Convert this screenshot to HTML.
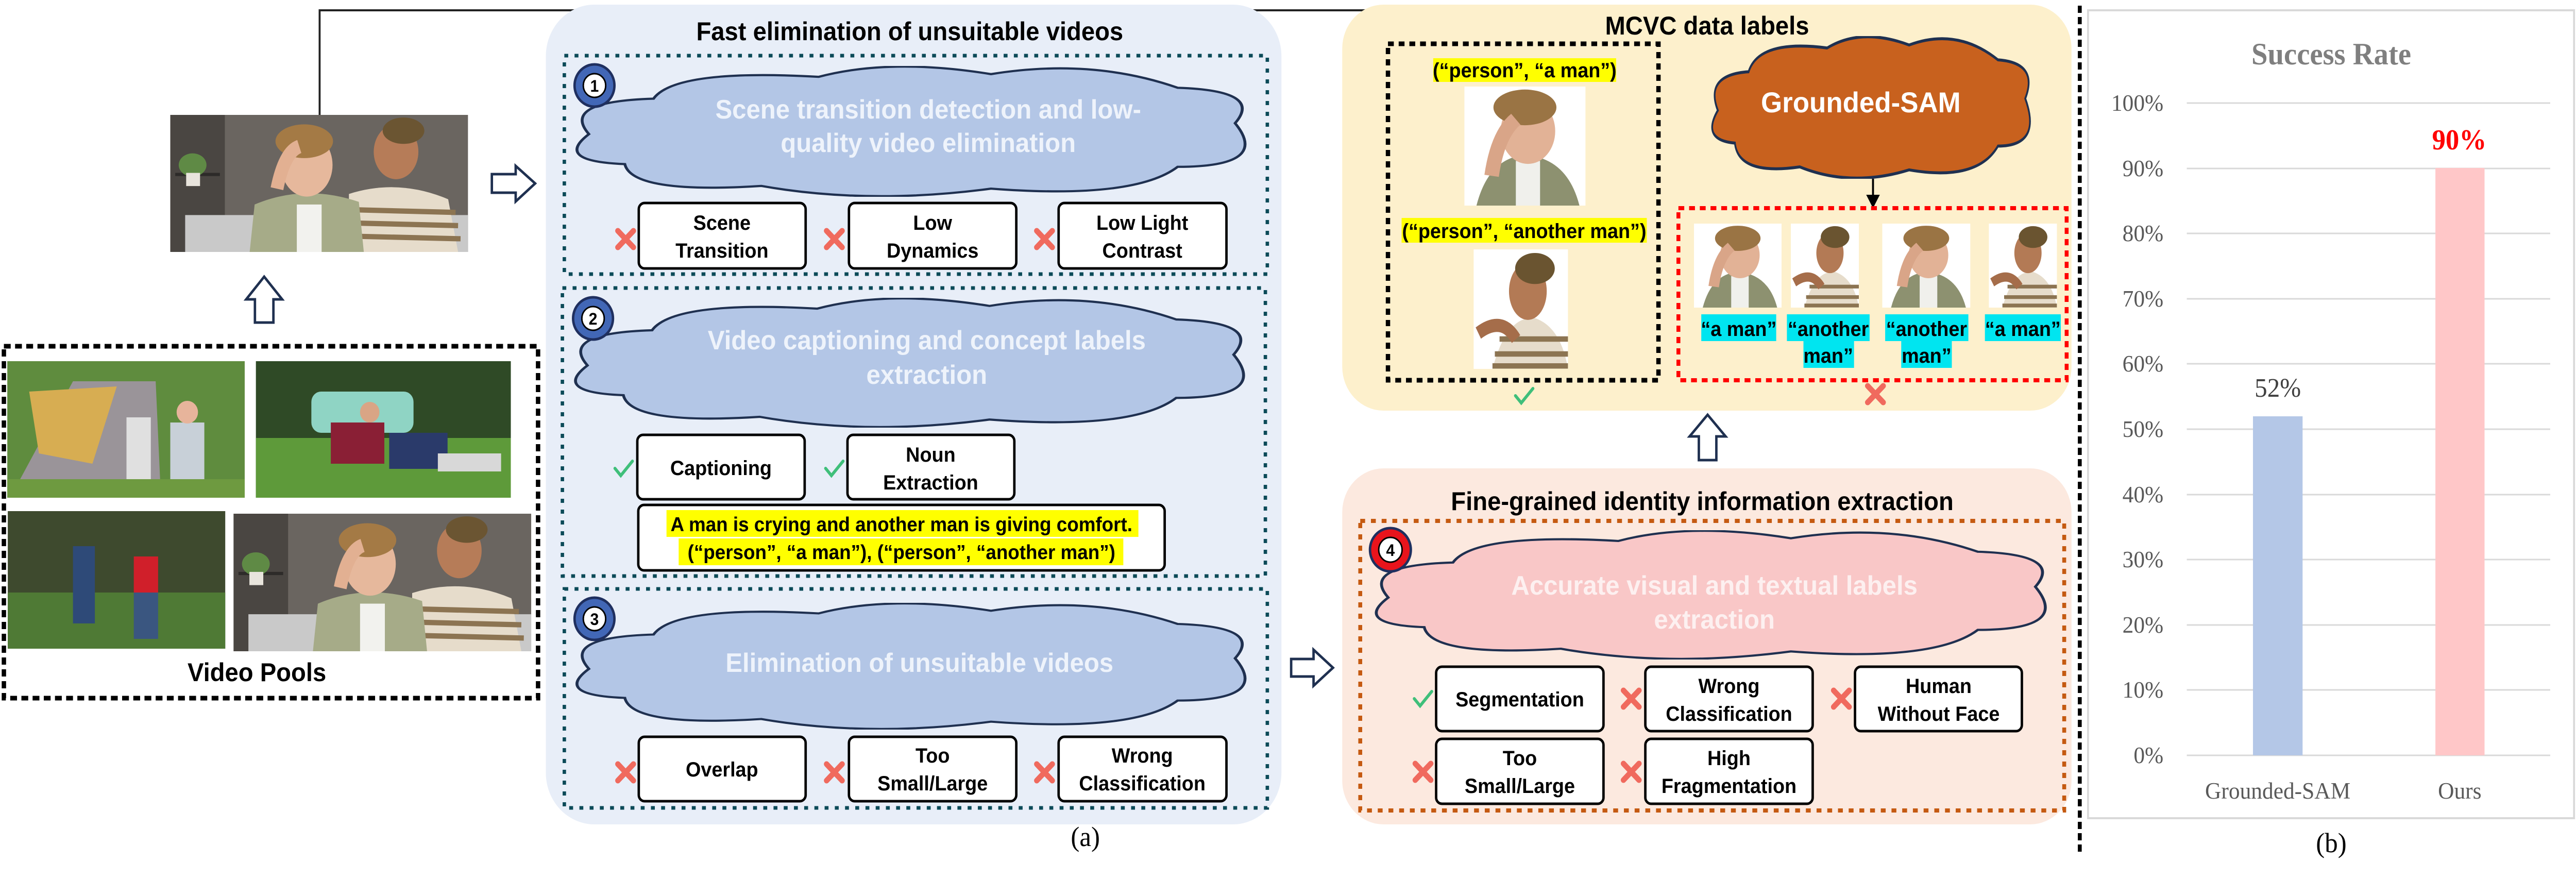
<!DOCTYPE html>
<html><head><meta charset="utf-8"><style>
html,body{margin:0;padding:0;background:#fff;width:100%;height:100%;overflow:hidden;}
svg.main{position:absolute;left:0;top:0;display:block;width:100vw;height:100vh;}
.b{font-family:"Liberation Sans",sans-serif;font-weight:bold;}
.s{font-family:"Liberation Serif",serif;}
</style></head><body>
<svg class="main" viewBox="0 0 5295 1706" preserveAspectRatio="none" xmlns="http://www.w3.org/2000/svg" overflow="hidden">
<defs>
<path id="cloud" d="M 60,140 Q 20,80 150,75 Q 180,20 380,35 Q 480,0 620,30 Q 760,0 880,55 Q 1000,60 960,120 Q 1010,200 880,200 Q 820,260 620,240 Q 450,270 300,235 Q 120,250 110,195 Q 10,190 60,140 Z"/>
<symbol id="men" viewBox="0 0 600 260" preserveAspectRatio="none">
<rect width="600" height="260" fill="#6a6560"/>
<rect x="0" y="0" width="110" height="260" fill="#4a4642"/>
<rect x="10" y="110" width="90" height="6" fill="#2d2b29"/>
<ellipse cx="45" cy="95" rx="28" ry="22" fill="#5f8a45"/>
<rect x="32" y="110" width="28" height="25" fill="#e8e4dc"/>
<rect x="30" y="190" width="570" height="70" fill="#c9c9c9"/>
<path d="M360,150 Q460,120 560,160 L580,260 L360,260 Z" fill="#e6dccb"/>
<path d="M370,180 L575,185 M365,205 L580,210 M362,230 L585,235" stroke="#8c7452" stroke-width="10"/>
<ellipse cx="455" cy="70" rx="45" ry="52" fill="#b67c58"/>
<ellipse cx="470" cy="30" rx="42" ry="25" fill="#6b5532"/>
<path d="M170,170 Q270,130 380,165 L390,260 L160,260 Z" fill="#a6ab88"/>
<rect x="255" y="170" width="50" height="90" fill="#f2f2ee"/>
<ellipse cx="275" cy="95" rx="52" ry="60" fill="#e6b89c"/>
<ellipse cx="270" cy="50" rx="58" ry="32" fill="#a47a45"/>
<path d="M215,140 Q230,70 260,60" stroke="#e2b092" stroke-width="26" fill="none"/>
</symbol>
<symbol id="man1" viewBox="0 0 200 200" preserveAspectRatio="none">
<rect width="200" height="200" fill="#fff"/>
<path d="M20,200 Q40,120 100,115 Q170,120 190,200 Z" fill="#8d9170"/>
<rect x="85" y="125" width="40" height="75" fill="#f0f0ec"/>
<ellipse cx="105" cy="75" rx="45" ry="55" fill="#e2b296"/>
<ellipse cx="100" cy="35" rx="52" ry="30" fill="#9a7444"/>
<path d="M45,150 Q55,80 85,55" stroke="#d9a588" stroke-width="24" fill="none"/>
</symbol>
<symbol id="man2" viewBox="0 0 200 200" preserveAspectRatio="none">
<rect width="200" height="200" fill="#fff"/>
<path d="M40,200 Q70,110 130,115 Q185,130 200,200 Z" fill="#e6dccb"/>
<path d="M55,150 L200,150 M45,175 L200,175 M40,195 L200,195" stroke="#8c7452" stroke-width="9"/>
<ellipse cx="115" cy="70" rx="40" ry="48" fill="#b37a55"/>
<ellipse cx="130" cy="32" rx="42" ry="26" fill="#6a5430"/>
<path d="M10,140 Q60,110 90,150" stroke="#a56d4a" stroke-width="22" fill="none"/>
</symbol>
<g id="xm"><path d="M-16,-16 L16,16 M16,-16 L-16,16" stroke="#f06a5e" stroke-width="11" stroke-linecap="round"/></g>
<g id="ck"><path d="M-18,0 L-6,14 L18,-14" stroke="#3fbf7a" stroke-width="6" fill="none" stroke-linecap="round"/></g>
</defs>

<polyline points="657,223 657,20 3851,20 3851,52" fill="none" stroke="#222" stroke-width="4"/>
<polygon points="3837,50 3865,50 3851,77" fill="#000"/>

<use href="#men" x="350" y="223" width="612" height="266"/>
<path d="M1011,338 L1060,338 L1060,322 L1100,356 L1060,391 L1060,374 L1011,374 Z" fill="#fff" stroke="#1f3050" stroke-width="5"/>
<path d="M524,626 L524,581 L506,581 L543,537 L580,581 L562,581 L562,626 Z" fill="#fff" stroke="#1f3050" stroke-width="5"/>

<rect x="8" y="672" width="1098" height="683" fill="#fff" stroke="#000" stroke-width="9" stroke-dasharray="14 9"/>
<g>
<rect x="15" y="701" width="488" height="265" fill="#5f8c3e"/>
<polygon points="30,950 150,740 320,740 330,950" fill="#9a9499"/>
<polygon points="60,760 240,750 190,900 80,880" fill="#d7ad52"/>
<rect x="260" y="810" width="50" height="140" fill="#e0e0e0"/>
<rect x="350" y="820" width="70" height="120" fill="#c8d0d8"/>
<circle cx="385" cy="800" r="22" fill="#e7b49b"/>
<rect x="15" y="930" width="488" height="36" fill="#6e9a40"/>
</g>
<g>
<rect x="526" y="701" width="524" height="265" fill="#2f4a26"/>
<rect x="526" y="850" width="524" height="116" fill="#5e9a3a"/>
<rect x="640" y="760" width="210" height="80" rx="20" fill="#8fd4c4"/>
<rect x="680" y="820" width="110" height="80" fill="#8a1f35"/>
<rect x="800" y="840" width="120" height="70" fill="#2a3a6a"/>
<rect x="900" y="880" width="130" height="35" fill="#d8d8d8"/>
<circle cx="760" cy="800" r="20" fill="#d9a585"/>
</g>
<g>
<rect x="16" y="992" width="447" height="267" fill="#3e4a2e"/>
<rect x="16" y="1150" width="447" height="109" fill="#4f7a35"/>
<rect x="150" y="1060" width="45" height="150" fill="#2e4a78"/>
<rect x="275" y="1080" width="50" height="70" fill="#d01f2a"/>
<rect x="275" y="1150" width="50" height="90" fill="#3a5680"/>
</g>
<use href="#men" x="480" y="997" width="612" height="267"/>
<text x="528" y="1322" class="b" font-size="50" text-anchor="middle">Video Pools</text>

<rect x="1122" y="9" width="1512" height="1591" rx="100" fill="#e8eef8"/>
<text x="1870" y="78" class="b" font-size="50" text-anchor="middle">Fast elimination of unsuitable videos</text>
<g fill="none" stroke="#0b4a58" stroke-width="7" stroke-dasharray="8 13">
<rect x="1160" y="108" width="1445" height="424"/>
<rect x="1156" y="559" width="1445" height="559"/>
<rect x="1160" y="1143" width="1445" height="425"/>
</g>
<svg x="1181" y="128" width="1402" height="254" viewBox="40 15 950 240" preserveAspectRatio="none"><use href="#cloud" fill="#b3c6e6" stroke="#1f3050" stroke-width="4" vector-effect="non-scaling-stroke"/></svg>
<svg x="1178" y="578" width="1402" height="252" viewBox="40 15 950 240" preserveAspectRatio="none"><use href="#cloud" fill="#b3c6e6" stroke="#1f3050" stroke-width="4" vector-effect="non-scaling-stroke"/></svg>
<svg x="1181" y="1170" width="1402" height="246" viewBox="40 15 950 240" preserveAspectRatio="none"><use href="#cloud" fill="#b3c6e6" stroke="#1f3050" stroke-width="4" vector-effect="non-scaling-stroke"/></svg>
<g class="b" font-size="52" fill="#eef3fb" text-anchor="middle">
<text x="1908" y="230">Scene transition detection and low-</text>
<text x="1908" y="295">quality video elimination</text>
<text x="1905" y="678">Video captioning and concept labels</text>
<text x="1905" y="745">extraction</text>
<text x="1890" y="1304">Elimination of unsuitable videos</text>
</g>
<g>
<circle cx="1222" cy="166" r="41" fill="#4267b6" stroke="#1f2f5f" stroke-width="5"/><circle cx="1222" cy="166" r="23" fill="#fff" stroke="#000" stroke-width="3"/><text x="1222" y="178" class="b" font-size="32" text-anchor="middle">1</text>
<circle cx="1219" cy="618" r="41" fill="#4267b6" stroke="#1f2f5f" stroke-width="5"/><circle cx="1219" cy="618" r="23" fill="#fff" stroke="#000" stroke-width="3"/><text x="1219" y="630" class="b" font-size="32" text-anchor="middle">2</text>
<circle cx="1222" cy="1201" r="41" fill="#4267b6" stroke="#1f2f5f" stroke-width="5"/><circle cx="1222" cy="1201" r="23" fill="#fff" stroke="#000" stroke-width="3"/><text x="1222" y="1213" class="b" font-size="32" text-anchor="middle">3</text>
</g>
<g fill="#fff" stroke="#000" stroke-width="5">
<rect x="1313" y="394" width="343" height="127" rx="12"/>
<rect x="1745" y="394" width="344" height="127" rx="12"/>
<rect x="2176" y="394" width="345" height="127" rx="12"/>
<rect x="1310" y="844" width="344" height="125" rx="12"/>
<rect x="1742" y="844" width="343" height="125" rx="12"/>
<rect x="1312" y="980" width="1082" height="127" rx="12"/>
<rect x="1313" y="1430" width="343" height="125" rx="12"/>
<rect x="1745" y="1430" width="344" height="125" rx="12"/>
<rect x="2176" y="1430" width="345" height="125" rx="12"/>
</g>
<rect x="1370" y="990" width="970" height="52" fill="#ffff00"/>
<rect x="1395" y="1045" width="914" height="52" fill="#ffff00"/>
<g class="b" font-size="40" text-anchor="middle">
<text x="1484" y="446">Scene</text><text x="1484" y="500">Transition</text>
<text x="1917" y="446">Low</text><text x="1917" y="500">Dynamics</text>
<text x="2348" y="446">Low Light</text><text x="2348" y="500">Contrast</text>
<text x="1482" y="922">Captioning</text>
<text x="1913" y="896">Noun</text><text x="1913" y="950">Extraction</text>
<text x="1853" y="1031" font-size="39">A man is crying and another man is giving comfort.</text>
<text x="1853" y="1085" font-size="39">(“person”, “a man”), (“person”, “another man”)</text>
<text x="1484" y="1507">Overlap</text>
<text x="1917" y="1480">Too</text><text x="1917" y="1534">Small/Large</text>
<text x="2348" y="1480">Wrong</text><text x="2348" y="1534">Classification</text>
</g>
<use href="#xm" x="1286" y="464"/><use href="#xm" x="1715" y="464"/><use href="#xm" x="2147" y="464"/>
<use href="#ck" x="1282" y="909"/><use href="#ck" x="1715" y="909"/>
<use href="#xm" x="1286" y="1499"/><use href="#xm" x="1715" y="1499"/><use href="#xm" x="2147" y="1499"/>
<text x="2231" y="1642" class="s" font-size="54" text-anchor="middle">(a)</text>
<path d="M2654,1279 L2700,1279 L2700,1261 L2740,1296 L2700,1331 L2700,1313 L2654,1313 Z" fill="#fff" stroke="#1f3050" stroke-width="5"/>

<rect x="2759" y="9" width="1499" height="788" rx="85" fill="#fdf0cc"/>
<text x="3509" y="67" class="b" font-size="50" text-anchor="middle">MCVC data labels</text>
<rect x="2853" y="85" width="556" height="653" fill="none" stroke="#000" stroke-width="9" stroke-dasharray="12 10"/>
<rect x="2946" y="113" width="376" height="46" fill="#ffff00"/>
<text x="3134" y="150" class="b" font-size="40" text-anchor="middle">(“person”, “a man”)</text>
<use href="#man1" x="3010" y="168" width="249" height="231"/>
<rect x="2881" y="423" width="504" height="48" fill="#ffff00"/>
<text x="3133" y="462" class="b" font-size="40" text-anchor="middle">(“person”, “another man”)</text>
<use href="#man2" x="3029" y="484" width="194" height="232"/>
<use href="#ck" x="3133" y="768"/>
<svg x="3517" y="70" width="667" height="277" viewBox="40 15 950 240" preserveAspectRatio="none"><use href="#cloud" fill="#c8611e" stroke="#1f3050" stroke-width="5" vector-effect="non-scaling-stroke"/></svg>
<text x="3825" y="218" class="b" font-size="56" fill="#fff" text-anchor="middle">Grounded-SAM</text>
<line x1="3850" y1="347" x2="3850" y2="380" stroke="#000" stroke-width="4"/>
<polygon points="3836,378 3864,378 3850,404" fill="#000"/>
<rect x="3450" y="404" width="798" height="334" fill="none" stroke="#ff0000" stroke-width="8" stroke-dasharray="12 10"/>
<use href="#man1" x="3482" y="434" width="180" height="163"/>
<use href="#man2" x="3681" y="434" width="140" height="163"/>
<use href="#man1" x="3869" y="434" width="181" height="163"/>
<use href="#man2" x="4088" y="434" width="140" height="163"/>
<g fill="#00e5f0">
<rect x="3497" y="610" width="154" height="52"/>
<rect x="3673" y="610" width="170" height="52"/><rect x="3707" y="662" width="104" height="52"/>
<rect x="3875" y="610" width="171" height="52"/><rect x="3908" y="662" width="104" height="52"/>
<rect x="4080" y="610" width="156" height="52"/>
</g>
<g class="b" font-size="40" text-anchor="middle">
<text x="3574" y="652">“a man”</text>
<text x="3758" y="652">“another</text><text x="3758" y="704">man”</text>
<text x="3960" y="652">“another</text><text x="3960" y="704">man”</text>
<text x="4158" y="652">“a man”</text>
</g>
<use href="#xm" x="3855" y="765"/>
<path d="M3492,893 L3492,847 L3473,847 L3510,805 L3547,847 L3528,847 L3528,893 Z" fill="#fff" stroke="#1f3050" stroke-width="5"/>

<rect x="2759" y="909" width="1499" height="691" rx="85" fill="#fce9df"/>
<text x="3499" y="990" class="b" font-size="50" text-anchor="middle">Fine-grained identity information extraction</text>
<rect x="2796" y="1011" width="1447" height="562" fill="none" stroke="#c55a11" stroke-width="8" stroke-dasharray="10 12"/>
<svg x="2824" y="1029" width="1404" height="251" viewBox="40 15 950 240" preserveAspectRatio="none"><use href="#cloud" fill="#f9c7c7" stroke="#1f3050" stroke-width="4" vector-effect="non-scaling-stroke"/></svg>
<g class="b" font-size="52" fill="#fdf0f0" text-anchor="middle">
<text x="3524" y="1154">Accurate visual and textual labels</text>
<text x="3524" y="1220">extraction</text>
</g>
<circle cx="2858" cy="1067" r="42" fill="#e8141c" stroke="#1f2f5f" stroke-width="5"/><circle cx="2858" cy="1067" r="24" fill="#fff" stroke="#000" stroke-width="3"/><text x="2858" y="1079" class="b" font-size="32" text-anchor="middle">4</text>
<g fill="#fff" stroke="#000" stroke-width="5">
<rect x="2952" y="1294" width="344" height="125" rx="12"/>
<rect x="3382" y="1294" width="344" height="125" rx="12"/>
<rect x="3813" y="1294" width="343" height="125" rx="12"/>
<rect x="2952" y="1434" width="344" height="126" rx="12"/>
<rect x="3382" y="1434" width="344" height="126" rx="12"/>
</g>
<g class="b" font-size="40" text-anchor="middle">
<text x="3124" y="1371">Segmentation</text>
<text x="3554" y="1345">Wrong</text><text x="3554" y="1399">Classification</text>
<text x="3985" y="1345">Human</text><text x="3985" y="1399">Without Face</text>
<text x="3124" y="1485">Too</text><text x="3124" y="1539">Small/Large</text>
<text x="3554" y="1485">High</text><text x="3554" y="1539">Fragmentation</text>
</g>
<use href="#ck" x="2925" y="1356"/><use href="#xm" x="3353" y="1356"/><use href="#xm" x="3785" y="1356"/>
<use href="#xm" x="2925" y="1498"/><use href="#xm" x="3353" y="1498"/>

<line x1="4275" y1="11" x2="4275" y2="1659" stroke="#000" stroke-width="8" stroke-dasharray="14 8"/>

<rect x="4292" y="20" width="999" height="1568" fill="#fff" stroke="#d9d9d9" stroke-width="4"/>
<text x="4792" y="125" class="s" font-weight="bold" font-size="60" fill="#7f7f7f" text-anchor="middle">Success Rate</text>
<g stroke="#d9d9d9" stroke-width="3">
<line x1="4495" y1="200" x2="5242" y2="200"/><line x1="4495" y1="327" x2="5242" y2="327"/>
<line x1="4495" y1="453" x2="5242" y2="453"/><line x1="4495" y1="580" x2="5242" y2="580"/>
<line x1="4495" y1="706" x2="5242" y2="706"/><line x1="4495" y1="833" x2="5242" y2="833"/>
<line x1="4495" y1="960" x2="5242" y2="960"/><line x1="4495" y1="1086" x2="5242" y2="1086"/>
<line x1="4495" y1="1213" x2="5242" y2="1213"/><line x1="4495" y1="1339" x2="5242" y2="1339"/>
<line x1="4495" y1="1466" x2="5242" y2="1466"/>
</g>
<g class="s" font-size="46" fill="#595959" text-anchor="end">
<text x="4447" y="215">100%</text><text x="4447" y="342">90%</text><text x="4447" y="468">80%</text>
<text x="4447" y="595">70%</text><text x="4447" y="721">60%</text><text x="4447" y="848">50%</text>
<text x="4447" y="975">40%</text><text x="4447" y="1101">30%</text><text x="4447" y="1228">20%</text>
<text x="4447" y="1354">10%</text><text x="4447" y="1481">0%</text>
</g>
<rect x="4631" y="808" width="102" height="658" fill="#b4c7e7"/>
<rect x="5006" y="326" width="101" height="1140" fill="#ffc7c8"/>
<text x="4682" y="770" class="s" font-size="52" fill="#404040" text-anchor="middle">52%</text>
<text x="5055" y="290" class="s" font-weight="bold" font-size="56" fill="#ff0000" text-anchor="middle">90%</text>
<g class="s" font-size="46" fill="#595959" text-anchor="middle">
<text x="4682" y="1550">Grounded-SAM</text><text x="5056" y="1550">Ours</text>
</g>
<text x="4792" y="1654" class="s" font-size="54" text-anchor="middle">(b)</text>
</svg>
</body></html>
